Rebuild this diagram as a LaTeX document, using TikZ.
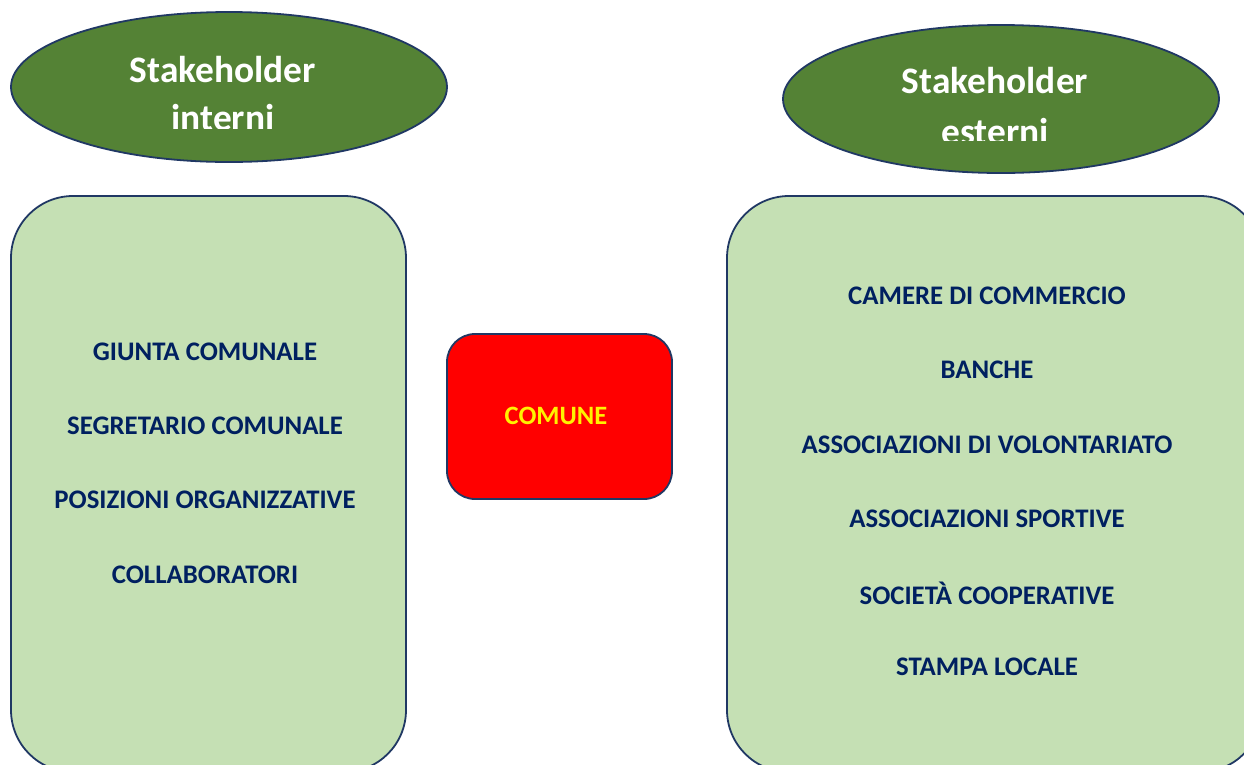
\documentclass[tikz,border=0pt]{standalone}
\usepackage{fontspec}
\setmainfont{Carlito}
\usetikzlibrary{shapes.geometric}
\definecolor{navy}{HTML}{203864}
\definecolor{txtblue}{HTML}{002060}
\definecolor{dkgreen}{HTML}{548235}
\definecolor{ltgreen}{HTML}{C5E0B4}
\tikzset{
  oval/.style={ellipse, draw=navy, line width=1.8pt, fill=dkgreen, inner sep=0pt},
  panel/.style={draw=navy, line width=1.8pt, fill=ltgreen, rounded corners=62pt},
  item/.style={font=\bfseries\fontsize{26.8}{32}\selectfont, text=txtblue, anchor=center},
  title/.style={font=\bfseries\fontsize{37.4}{44}\selectfont, text=white, anchor=base},
}
\begin{document}
\begin{tikzpicture}[x=1pt,y=-1pt]
\useasboundingbox (0,0) rectangle (1244,764);
\clip (0,0) rectangle (1244,764);
% ellipses
\node[oval, minimum width=436pt, minimum height=150pt] (eL) at (229,87) {};
\node[oval, minimum width=436pt, minimum height=148pt] (eR) at (1001,99) {};
\begin{scope}
\clip (0,0) rectangle (460,128);
\node[title] (tL1) at (223,82) {Stakeholder};
\node[title] (tL2) at (223,130) {interni};
\end{scope}
\begin{scope}
\clip (770,0) rectangle (1244,140.5);
\node[title] (tR1) at (995,93) {Stakeholder};
\node[title] (tR2) at (995,144) {esterni};
\end{scope}
% panels
\draw[panel] (11,196) rectangle (406,772);
\draw[panel] (727,196) rectangle (1262,772);
% comune
\node[draw=navy, line width=1.8pt, fill=red, rounded corners=28pt, minimum width=225pt, minimum height=165pt] (comune) at (559.5,416.5) {};
\node[font=\bfseries\fontsize{26.5}{32}\selectfont, text=yellow] (comunetxt) at (556,416) {COMUNE};
% left items
\node[item] (l1) at (205,352) {GIUNTA COMUNALE};
\node[item] (l2) at (205,426) {SEGRETARIO COMUNALE};
\node[item] (l3) at (205,500) {POSIZIONI ORGANIZZATIVE};
\node[item] (l4) at (205,575) {COLLABORATORI};
% right items
\node[item] (r1) at (987,296) {CAMERE DI COMMERCIO};
\node[item] (r2) at (987,370) {BANCHE};
\node[item] (r3) at (987,445) {ASSOCIAZIONI DI VOLONTARIATO};
\node[item] (r4) at (987,519) {ASSOCIAZIONI SPORTIVE};
\node[item] (r5) at (987,593) {SOCIETÀ COOPERATIVE};
\node[item] (r6) at (987,667) {STAMPA LOCALE};
\end{tikzpicture}
\end{document}
